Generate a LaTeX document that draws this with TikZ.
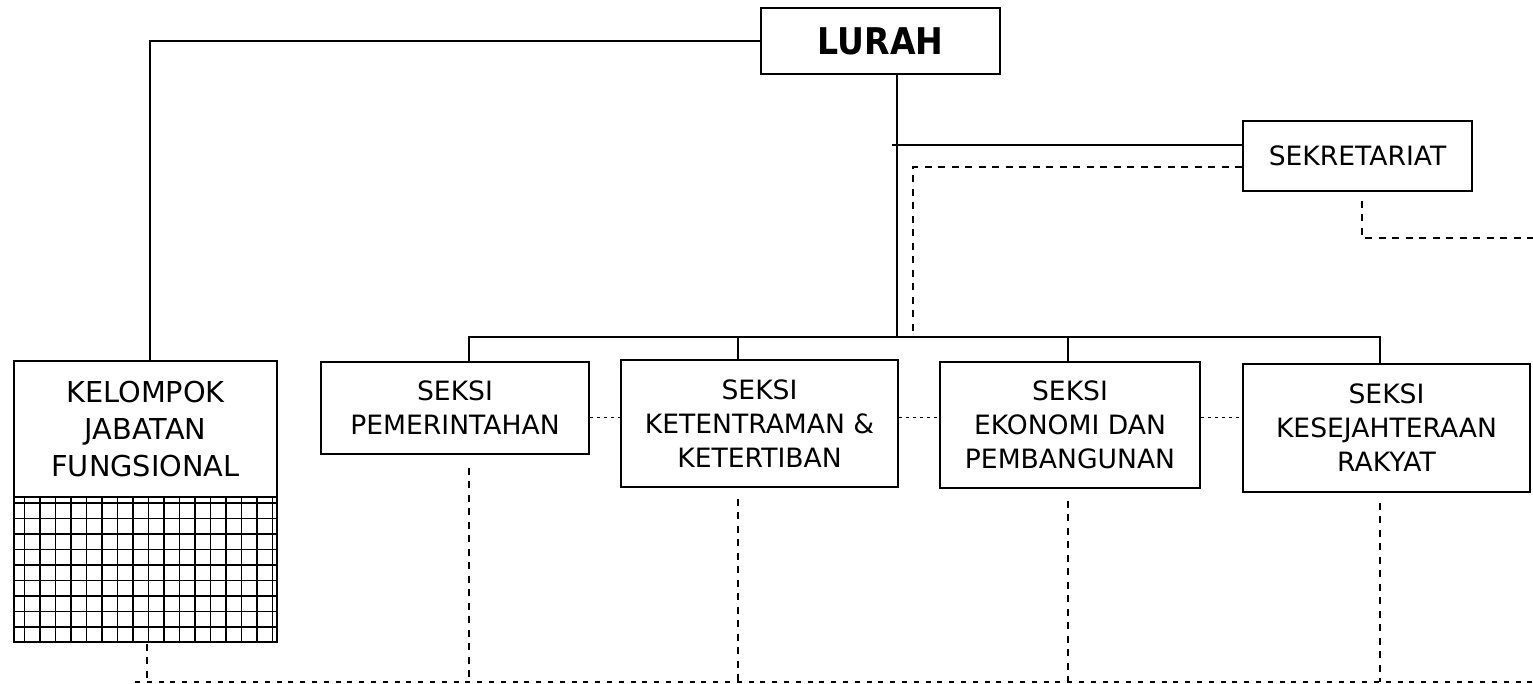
\documentclass[tikz,border=0pt]{standalone}
\usepackage{fontspec}
\setmainfont{DejaVu Sans}
\newfontfamily\lurahfont[FakeStretch=0.9]{DejaVu Sans}
\usetikzlibrary{positioning,calc}

\begin{document}
\begin{tikzpicture}[x=0.5pt, y=-0.5pt,
      unit/.style={draw, line width=0.9pt, align=center, inner sep=0pt,
                   font=\fontsize{13.3}{17}\selectfont},
      line/.style={line width=0.7pt},
      dash line/.style={line width=0.7pt, dash pattern=on 3.5pt off 3.25pt},
      dot line/.style={line width=0.5pt, dash pattern=on 1.75pt off 1.75pt},
      floor line/.style={line width=0.8pt, dash pattern=on 2.5pt off 3.4pt},
      grid line/.style={line width=0.95pt}]

    \useasboundingbox (0,0) rectangle (1533,684);

    \node[unit, minimum width=119.5pt, minimum height=33pt,
          font=\lurahfont\bfseries\fontsize{18.4}{22}\selectfont] (lurah) at (880.5,41)
      {LURAH};
    \node[unit, minimum width=114.5pt, minimum height=35pt] (sekre) at (1357.5,156)
      {SEKRETARIAT};

    \node[unit, minimum width=131.5pt, minimum height=68pt,
          font=\fontsize{14.4}{18.7}\selectfont] (kjf) at (145.5,429)
      {KELOMPOK\\JABATAN\\FUNGSIONAL};
    \node[draw, line width=0.9pt, minimum width=131.5pt, minimum height=72.5pt,
          inner sep=0pt] (grid) at (145.5,569.5) {};
    \foreach \gx in {0,...,16}
      \draw[grid line] (24.5+15.5*\gx,497) -- (24.5+15.5*\gx,642);
    \foreach \gy in {0,...,8}
      \draw[grid line] (14,503+15.5*\gy) -- (277,503+15.5*\gy);

    \node[unit, minimum width=134pt, minimum height=46pt] (pem) at (455,408)
      {SEKSI\\PEMERINTAHAN};
    \node[unit, minimum width=138.5pt, minimum height=63.5pt] (ket) at (759.5,423.5)
      {SEKSI\\KETENTRAMAN \&\\KETERTIBAN};
    \node[unit, minimum width=130pt, minimum height=63pt] (eko) at (1070,425)
      {SEKSI\\EKONOMI DAN\\PEMBANGUNAN};
    \node[unit, minimum width=143.5pt, minimum height=64pt] (kes) at (1386.5,428)
      {SEKSI\\KESEJAHTERAAN\\RAKYAT};

    \coordinate (bus) at (897,337);
    \coordinate (mid) at (0,418);
    \coordinate (floor) at (135,682);
    \coordinate (edge1) at (1533,238);
    \coordinate (edge2) at (1533,682);

    % command lines
    \draw[line] (lurah.south -| bus) -- (bus);
    \draw[line] (lurah.west) -| ([xshift=2.25pt]kjf.north);
    \draw[line] ([yshift=5.5pt]sekre.west) -- ($(bus |- sekre.west)+(-5,-11)$);
    \draw[line] ([xshift=7pt]pem.north) |- (bus) -| ([xshift=-3.25pt]kes.north);
    \draw[line] ([xshift=-10.75pt]ket.north) -- ($(ket.north |- bus)+(-21.5,0)$);
    \draw[line] ([xshift=-1pt]eko.north) -- ($(eko.north |- bus)+(-2,0)$);

    % coordination lines
    \draw[dash line] ([yshift=-5.5pt]sekre.west) -| ($(bus)+(16,0)$);
    \draw[dash line] ([xshift=2.25pt,yshift=-4.5pt]sekre.south) |- (edge1);
    \draw[dot line] (pem.east |- mid) -- (ket.west |- mid);
    \draw[dot line] (ket.east |- mid) -- (eko.west |- mid);
    \draw[dot line] (eko.east |- mid) -- (kes.west |- mid);

    \draw[floor line] (floor) -- (edge2);
    \draw[dash line] ($(grid.south)+(1.5,1)$) -- ($(grid.south |- floor)+(1.5,0)$);
    \draw[dash line] ($(pem.south)+(14,13)$) -- ($(pem.south |- floor)+(14,0)$);
    \draw[dash line] ($(ket.south)+(-21.5,11)$) -- ($(ket.south |- floor)+(-21.5,0)$);
    \draw[dash line] ($(eko.south)+(-2,12)$) -- ($(eko.south |- floor)+(-2,0)$);
    \draw[dash line] ($(kes.south)+(-6.5,10)$) -- ($(kes.south |- floor)+(-6.5,0)$);
  \end{tikzpicture}
\end{document}
